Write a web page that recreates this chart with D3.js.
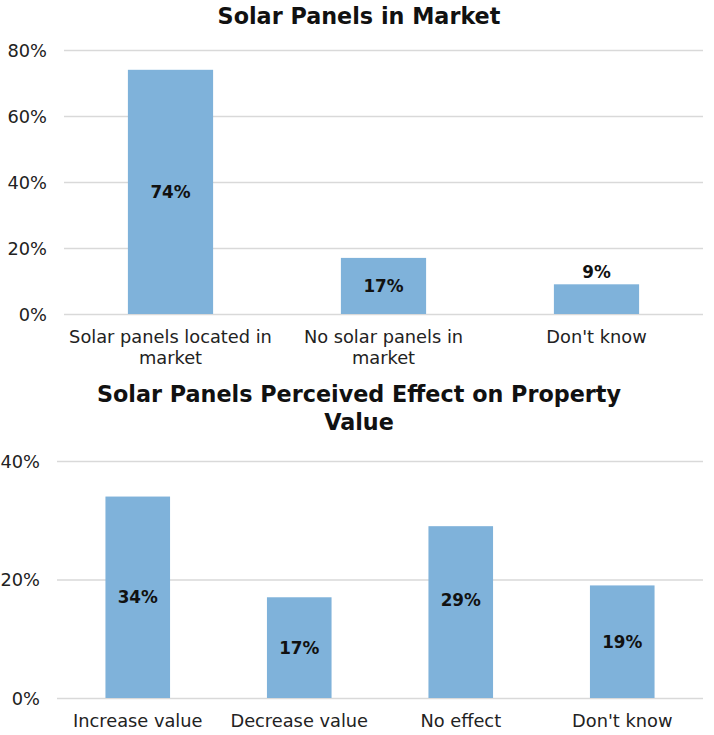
<!DOCTYPE html>
<html>
<head>
<meta charset="utf-8">
<script src="https://cdn.jsdelivr.net/npm/d3@7"></script>
<style>
  body { margin: 0; background: #fff; }
  svg { display: block; font-family: "DejaVu Sans", "Noto Sans", sans-serif; }
</style>
</head>
<body>
<svg id="chart" width="714" height="735"></svg>
<script>
// top chart
const marketCategories = [["Solar panels located in", "market"], ["No solar panels in", "market"], ["Don't know"]];
const marketValues = [74, 17, 9];
const marketTicks = [0, 20, 40, 60, 80];

// bottom chart
const effectCategories = [["Increase value"], ["Decrease value"], ["No effect"], ["Don't know"]];
const effectValues = [34, 17, 29, 19];
const effectTicks = [0, 20, 40];

const svg = d3.select('#chart');
const barColor = '#7fb2da';

function drawBarChart(cfg) {
    const g = svg.append('g');
    const shift = cfg.labelShift || {};

    const x = d3.scaleBand()
        .domain(d3.range(cfg.values.length))
        .range([cfg.left, cfg.right])
        .paddingInner(0.6)
        .paddingOuter(0.3);

    const y = d3.scaleLinear()
        .domain([0, d3.max(cfg.ticks)])
        .range([cfg.bottom, cfg.top]);

    // title
    cfg.title.forEach((line, i) => {
        g.append('text')
            .attr('x', 359)
            .attr('y', cfg.titleY + i * 28)
            .attr('text-anchor', 'middle')
            .attr('font-size', '22.3px')
            .attr('font-weight', 'bold')
            .attr('fill', '#111')
            .text(line);
    });

    // y axis with gridlines
    const yaxis = d3.axisLeft(y)
        .tickValues(cfg.ticks)
        .tickFormat(d => d + '%')
        .tickSize(-(cfg.right - cfg.left))
        .tickPadding(cfg.tickPad);

    const ag = g.append('g')
        .attr('transform', `translate(${cfg.left},0)`)
        .call(yaxis);
    ag.select('.domain').remove();
    ag.selectAll('.tick line').attr('stroke', '#d9d9d9').attr('stroke-width', 1.3);
    ag.selectAll('.tick text')
        .attr('font-size', '17.8px')
        .attr('font-family', '"DejaVu Sans", sans-serif')
        .attr('fill', '#222')
        .attr('dy', '0.35em');

    // bars
    g.selectAll('rect.bar')
        .data(cfg.values)
        .enter()
        .append('rect')
        .attr('class', 'bar')
        .attr('x', (d, i) => x(i))
        .attr('y', d => y(d))
        .attr('width', x.bandwidth())
        .attr('height', d => y(0) - y(d))
        .attr('fill', barColor);

    // value labels: centre of bar, or above when the bar is too short
    g.selectAll('text.val')
        .data(cfg.values)
        .enter()
        .append('text')
        .attr('class', 'val')
        .attr('x', (d, i) => x(i) + x.bandwidth() / 2)
        .attr('y', (d, i) => ((y(0) - y(d)) < 35 ? y(d) - 6 : (y(0) + y(d)) / 2 + 6) + (shift[i] || 0))
        .attr('text-anchor', 'middle')
        .attr('font-size', '16.8px')
        .attr('font-weight', 'bold')
        .attr('fill', '#111')
        .text(d => d + '%');

    // category labels
    cfg.categories.forEach((lines, i) => {
        lines.forEach((line, j) => {
            g.append('text')
                .attr('x', x(i) + x.bandwidth() / 2)
                .attr('y', cfg.bottom + 29 + j * 21)
                .attr('text-anchor', 'middle')
                .attr('font-size', '17.8px')
                .attr('fill', '#222')
                .text(line);
        });
    });
}

drawBarChart({
    title: ['Solar Panels in Market'],
    titleY: 24,
    categories: marketCategories,
    values: marketValues,
    ticks: marketTicks,
    tickPad: 17,
    left: 64, right: 703, top: 50, bottom: 314
});

drawBarChart({
    title: ['Solar Panels Perceived Effect on Property', 'Value'],
    titleY: 402,
    categories: effectCategories,
    values: effectValues,
    ticks: effectTicks,
    tickPad: 17,
    labelShift: {2: -12},
    left: 57, right: 703, top: 461, bottom: 698
});
</script>
</body>
</html>
